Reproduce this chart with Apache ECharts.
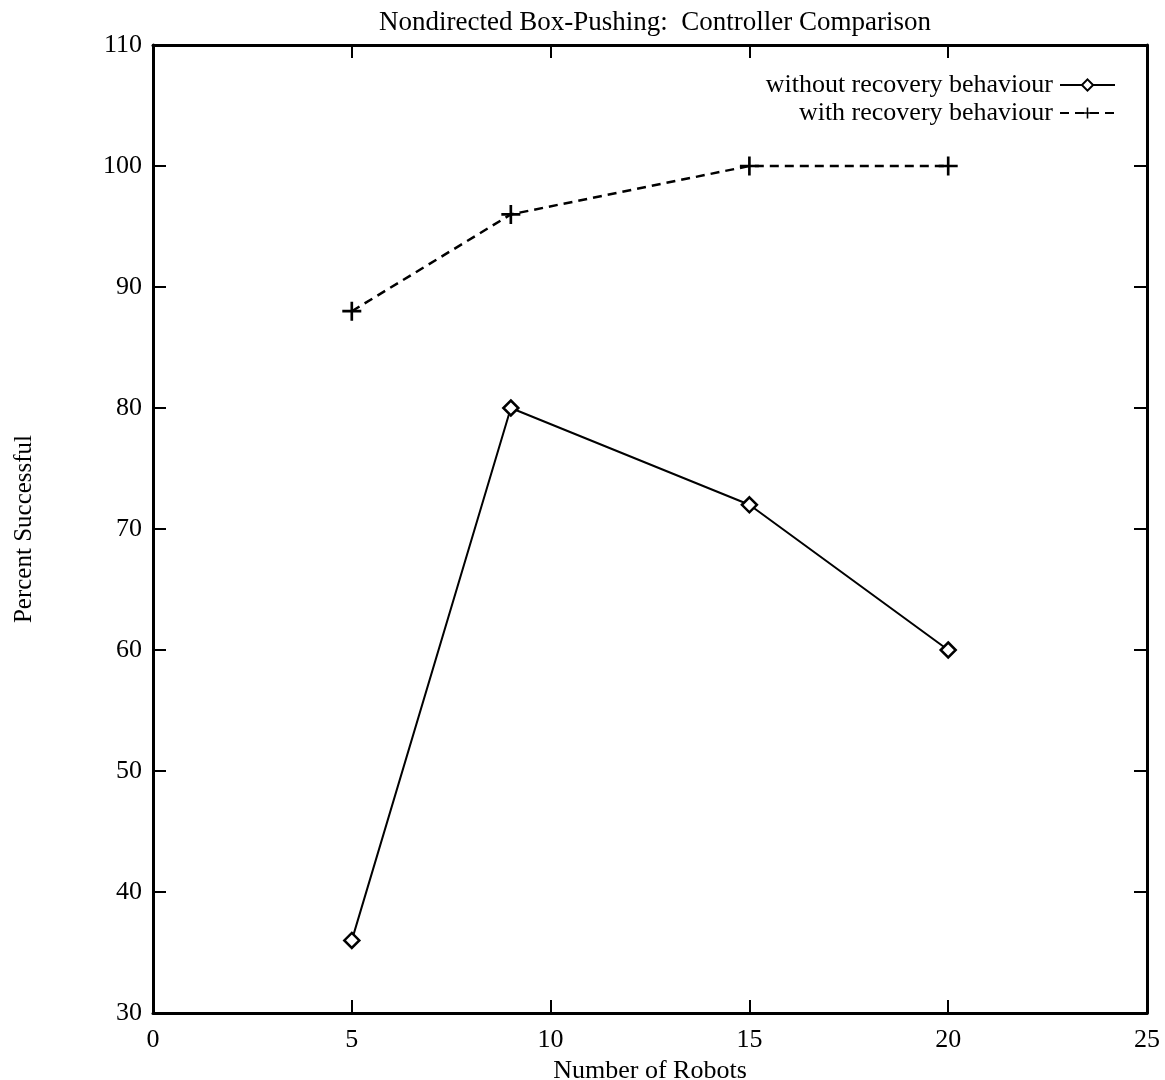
<!DOCTYPE html>
<html>
<head>
<meta charset="utf-8">
<script src="https://cdn.jsdelivr.net/npm/echarts@6/dist/echarts.min.js"></script>
<style>
  html, body { margin: 0; padding: 0; background: #fff; }
  #chart { width: 1165px; height: 1080px; }
</style>
</head>
<body>
<div id="chart"></div>
<script>
// number of robots
var robots = [5, 9, 15, 20];
// percent successful
var withoutRecovery = [36, 80, 72, 60];
var withRecovery = [88, 96, 100, 100];
var xTicks = [0, 5, 10, 15, 20, 25];
var yTicks = [30, 40, 50, 60, 70, 80, 90, 100, 110];

var font = '"Liberation Serif", "DejaVu Serif", serif';
var plusPath = 'path://M4.3,0 H5.7 V4.3 H10 V5.7 H5.7 V10 H4.3 V5.7 H0 V4.3 H4.3 Z';

function pairs(xs, ys) {
    return xs.map(function (x, i) { return [x, ys[i]]; });
}
function tick() {
    return { show: true, inside: true, length: 13, lineStyle: { color: '#000', width: 2 } };
}
function line() {
    return { show: true, onZero: false, lineStyle: { color: '#000', width: 3 } };
}

var myChart = echarts.init(document.getElementById('chart'));

var option = {
    animation: false,
    backgroundColor: '#fff',
    title: {
        text: 'Nondirected Box-Pushing:  Controller Comparison',
        left: 650,
        top: 4,
        textAlign: 'center',
        textStyle: { fontFamily: font, fontSize: 27, fontWeight: 'normal', color: '#000' }
    },
    legend: {
        orient: 'vertical',
        right: 44,
        top: 67,
        align: 'right',
        itemWidth: 55,
        itemHeight: 14,
        itemGap: 2,
        textStyle: { fontFamily: font, fontSize: 26, lineHeight: 24, color: '#000', padding: [0, 2, 0, 0] },
        data: ['without recovery behaviour', 'with recovery behaviour']
    },
    grid: { left: 153, right: 18, top: 45, bottom: 67, outerBoundsMode: 'none', containLabel: false },
    xAxis: [{
        type: 'value',
        min: 0, max: 25, interval: 5,
        name: 'Number of Robots',
        nameLocation: 'middle',
        nameGap: 43,
        nameTextStyle: { fontFamily: font, fontSize: 26, color: '#000' },
        axisLine: line(),
        axisTick: tick(),
        axisLabel: { fontFamily: font, fontSize: 26, color: '#000', margin: 14 },
        splitLine: { show: false }
    }, {
        type: 'value',
        position: 'top',
        min: 0, max: 25, interval: 5,
        axisLine: line(),
        axisTick: tick(),
        axisLabel: { show: false },
        splitLine: { show: false }
    }],
    yAxis: [{
        type: 'value',
        position: 'left',
        min: 30, max: 110, interval: 10,
        name: 'Percent Successful',
        nameLocation: 'middle',
        nameGap: 116,
        nameTextStyle: { fontFamily: font, fontSize: 25, color: '#000' },
        axisLine: line(),
        axisTick: tick(),
        axisLabel: { fontFamily: font, fontSize: 26, color: '#000', margin: 11 },
        splitLine: { show: false }
    }, {
        type: 'value',
        position: 'right',
        min: 30, max: 110, interval: 10,
        axisLine: line(),
        axisTick: tick(),
        axisLabel: { show: false },
        splitLine: { show: false }
    }],
    series: [{
        name: 'without recovery behaviour',
        type: 'line',
        data: pairs(robots, withoutRecovery),
        symbol: 'diamond',
        symbolSize: 15,
        showAllSymbol: true,
        lineStyle: { color: '#000', width: 2 },
        itemStyle: { color: '#fff', borderColor: '#000', borderWidth: 2.5 }
    }, {
        name: 'with recovery behaviour',
        type: 'line',
        data: pairs(robots, withRecovery),
        symbol: plusPath,
        symbolSize: 19,
        showAllSymbol: true,
        lineStyle: { color: '#000', width: 2.5, type: [9, 6] },
        itemStyle: { color: '#000', borderWidth: 0 }
    }]
};

option && myChart.setOption(option);
window.addEventListener('resize', function () {
    myChart.resize();
});
</script>
</body>
</html>
